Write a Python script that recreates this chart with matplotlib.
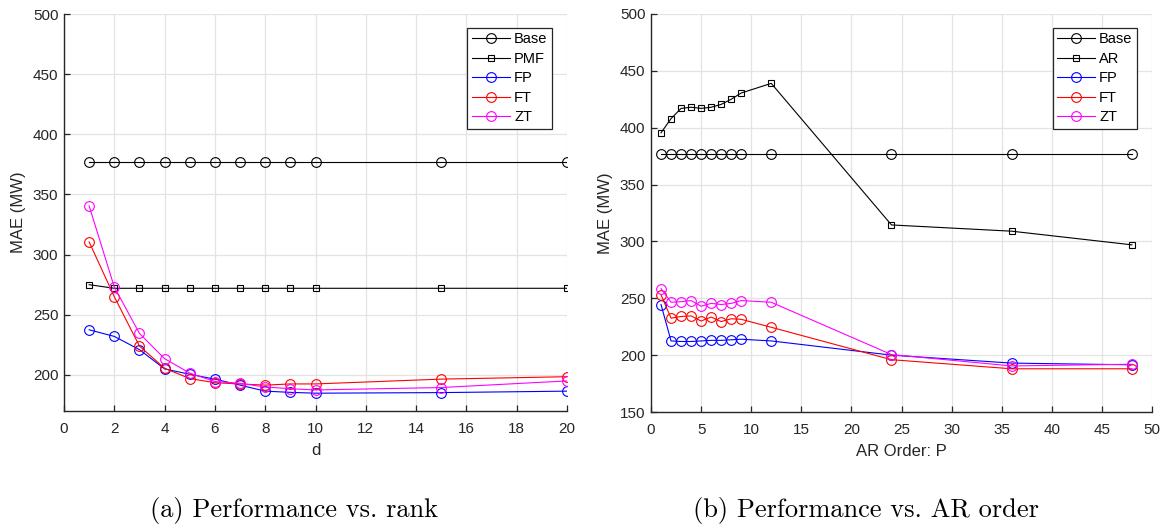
import matplotlib
matplotlib.use("Agg")
import matplotlib.pyplot as plt

# rank sweep (left panel)
d_vals = [1, 2, 3, 4, 5, 6, 7, 8, 9, 10, 15, 20]
base_d = [377, 377, 377, 377, 377, 377, 377, 377, 377, 377, 377, 377]
pmf_d = [275, 272, 272, 272, 272, 272, 272, 272, 272, 272, 272, 272]
fp_d = [237.5, 232, 221, 205, 200.5, 196.5, 191.5, 186.5, 185.5, 184.8, 185.3, 186.5]
ft_d = [310.5, 265, 224, 205.5, 197, 193.5, 192.5, 191.5, 192.5, 192.5, 196.5, 198.5]
zt_d = [340.5, 273, 234.5, 213.5, 201.5, 194.5, 193, 190, 188.5, 187.5, 189.5, 195]

# AR order sweep (right panel)
p_vals = [1, 2, 3, 4, 5, 6, 7, 8, 9, 12, 24, 36, 48]
base_p = [377, 377, 377, 377, 377, 377, 377, 377, 377, 377, 377, 377, 377]
ar_p = [395.5, 408, 417, 418, 417, 418, 420.5, 425, 430.5, 439, 314.5, 309, 297]
fp_p = [244.5, 212.5, 212, 212, 212.5, 213, 213, 213.5, 214, 212.5, 200, 193, 191.5]
ft_p = [253, 232.5, 234, 234.5, 230, 233.5, 229.5, 232, 231.5, 224.5, 196, 188, 188]
zt_p = [258.5, 246.5, 247, 248, 243, 245.5, 244.5, 245.5, 248, 246.5, 200.5, 190.5, 192]

plt.rcParams["font.family"] = ["Liberation Sans", "DejaVu Sans"]
TXT = "#262626"

W, H = 1163, 529
fig = plt.figure(figsize=(W / 100, H / 100), dpi=100)


def style_axes(ax, xlim, ylim, xticks, yticks, xlabel):
    ax.set_xlim(*xlim)
    ax.set_ylim(*ylim)
    ax.set_xticks(xticks)
    ax.set_yticks(yticks)
    ax.grid(True, color="#e3e3e3", linewidth=0.9)
    ax.set_axisbelow(True)
    for side in ["top", "right"]:
        ax.spines[side].set_visible(False)
    for side in ["left", "bottom"]:
        ax.spines[side].set_color(TXT)
        ax.spines[side].set_linewidth(1.0)
    ax.tick_params(direction="in", length=4, width=0.9, colors=TXT, labelsize=11)
    ax.tick_params(axis="x", pad=8)
    ax.tick_params(axis="y", pad=4)
    ax.set_xlabel(xlabel, fontsize=12, color=TXT, labelpad=5)
    ax.set_ylabel("MAE (MW)", fontsize=12, color=TXT, labelpad=5)


def add_series(ax, x, ys, labels, colors, markers):
    for y, lab, c, m in zip(ys, labels, colors, markers):
        ms = 5 if m == "s" else 7
        ax.plot(x, y, color=c, marker=m, markersize=ms, markerfacecolor="none",
                markeredgewidth=0.8, linewidth=0.8, label=lab)
    leg = ax.legend(loc="upper right", bbox_to_anchor=(0.97, 0.965), fontsize=10.5,
                    fancybox=False, edgecolor=TXT, framealpha=1, handlelength=2.6,
                    borderpad=0.3, labelspacing=0.38, handletextpad=0.3,
                    borderaxespad=0)
    leg.get_frame().set_linewidth(0.9)


# left panel
ax1 = fig.add_axes([64 / W, 1 - 411 / H, 503 / W, 397 / H])
style_axes(ax1, (0, 20), (170, 500), range(0, 21, 2), range(200, 501, 50), "d")
add_series(ax1, d_vals, [base_d, pmf_d, fp_d, ft_d, zt_d],
           ["Base", "PMF", "FP", "FT", "ZT"],
           ["black", "black", "#0000ff", "#ff0000", "#ff00ff"],
           ["o", "s", "o", "o", "o"])

# right panel
ax2 = fig.add_axes([651 / W, 1 - 412 / H, 501 / W, 398 / H])
style_axes(ax2, (0, 50), (150, 500), range(0, 51, 5), range(150, 501, 50), "AR Order: P")
add_series(ax2, p_vals, [base_p, ar_p, fp_p, ft_p, zt_p],
           ["Base", "AR", "FP", "FT", "ZT"],
           ["black", "black", "#0000ff", "#ff0000", "#ff00ff"],
           ["o", "s", "o", "o", "o"])

# subfigure captions
fig.text(294 / W, 1 - 511 / H, "(a) Performance vs. rank", ha="center", va="center",
         fontsize=19, fontfamily="cmr10")
fig.text(866 / W, 1 - 511 / H, "(b) Performance vs. AR order", ha="center", va="center",
         fontsize=19, fontfamily="cmr10")

fig.savefig("out.png", dpi=100)
